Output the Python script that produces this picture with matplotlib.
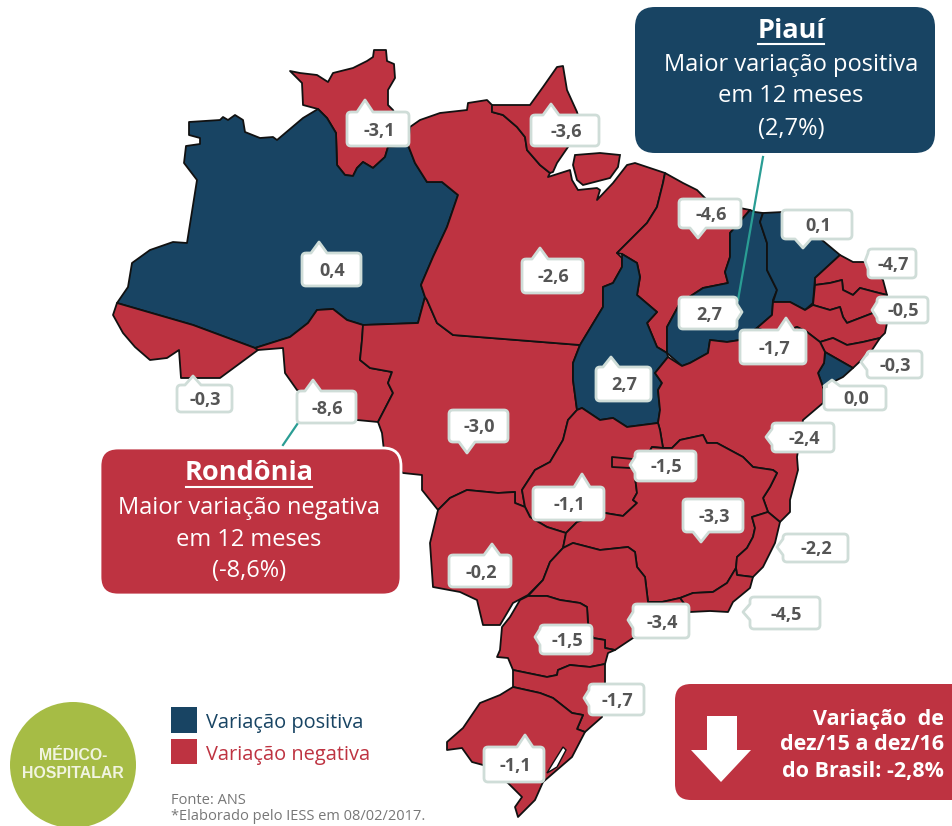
import matplotlib
matplotlib.use('Agg')
import matplotlib.pyplot as plt
from matplotlib.patches import Polygon, PathPatch, FancyBboxPatch, Circle
from matplotlib.path import Path

states = ['RR', 'AM', 'AC', 'RO', 'MT', 'PA', 'AP', 'MA', 'TO', 'PI', 'CE', 'RN', 'PB', 'PE',
          'AL', 'SE', 'BA', 'GO', 'DF', 'MS', 'MG', 'ES', 'RJ', 'SP', 'PR', 'SC', 'RS']
values = [-3.1, 0.4, -0.3, -8.6, -3.0, -2.6, -3.6, -4.6, 2.7, 2.7, 0.1, -4.7, -0.5, -1.7,
          -0.3, 0.0, -2.4, -1.1, -1.5, -0.2, -3.3, -2.2, -4.5, -3.4, -1.5, -1.7, -1.1]

# state outlines, pixel coordinates
outlines = {
    'RR': [(290, 71), (300, 73), (317, 75), (328, 82), (333, 73), (353, 68), (367, 61), (373, 57), (374, 50),
           (386, 50), (387, 61), (394, 64), (395, 78), (388, 90), (388, 105), (393, 110), (400, 127), (408, 145),
           (388, 147), (385, 157), (373, 168), (363, 162), (357, 168), (353, 176), (345, 175), (337, 165),
           (336, 133), (327, 118), (318, 109), (303, 105), (302, 83)],
    'AM': [(318, 109), (327, 118), (336, 133), (337, 165), (345, 175), (353, 176), (357, 168), (363, 162),
           (373, 168), (385, 157), (388, 147), (408, 145), (415, 163), (427, 182), (442, 182), (458, 195),
           (447, 227), (433, 257), (421, 285), (425, 297), (418, 323), (363, 325), (347, 320), (333, 309),
           (317, 310), (308, 323), (290, 337), (255, 348), (193, 325), (117, 303), (128, 287), (132, 263),
           (150, 250), (173, 242), (187, 243), (197, 180), (184, 163), (186, 146), (200, 144), (200, 138),
           (189, 135), (189, 122), (220, 120), (223, 117), (228, 120), (235, 115), (243, 120), (245, 132),
           (260, 138), (273, 137), (277, 140), (303, 118)],
    'AC': [(117, 303), (113, 315), (123, 333), (135, 347), (150, 360), (167, 358), (179, 350), (181, 378),
           (220, 378), (258, 350), (255, 348), (193, 325)],
    'RO': [(258, 350), (255, 348), (290, 337), (308, 323), (317, 310), (333, 309), (347, 320), (363, 325),
           (362, 340), (360, 360), (370, 368), (392, 372), (388, 383), (393, 393), (378, 422), (357, 420),
           (297, 390), (285, 373), (283, 348)],
    'MT': [(363, 325), (418, 323), (425, 297), (427, 300), (437, 323), (453, 335), (580, 345), (573, 363),
           (573, 380), (577, 410), (568, 420), (563, 440), (550, 462), (535, 470), (522, 490), (525, 507),
           (515, 503), (515, 492), (498, 493), (467, 490), (450, 498), (438, 510), (422, 490), (422, 475),
           (403, 473), (385, 460), (382, 433), (378, 422), (393, 393), (388, 383), (392, 372), (370, 368),
           (360, 360), (362, 340)],
    'PA': [(580, 345), (453, 335), (437, 323), (427, 300), (425, 297), (421, 285), (433, 257), (447, 227),
           (458, 195), (442, 182), (427, 182), (415, 163), (408, 145), (410, 127), (420, 120), (440, 113),
           (467, 110), (468, 103), (487, 100), (492, 105), (492, 112), (503, 115), (517, 127), (525, 137),
           (527, 150), (540, 165), (550, 173), (548, 177), (570, 170), (572, 180), (578, 190), (597, 188),
           (600, 190), (597, 200), (613, 183), (627, 165), (635, 163), (665, 173), (663, 183), (657, 207),
           (647, 223), (627, 243), (617, 253), (622, 258), (622, 267), (613, 283), (603, 287), (603, 307)],
    'AP': [(492, 105), (513, 105), (530, 105), (543, 87), (557, 67), (563, 66), (567, 90), (577, 112),
           (582, 130), (568, 147), (557, 163), (553, 172), (550, 173), (540, 165), (527, 150), (525, 137),
           (517, 127), (503, 115), (492, 112)],
    'MA': [(665, 173), (683, 183), (697, 190), (712, 205), (740, 208), (750, 210), (730, 233), (730, 257),
           (725, 272), (728, 283), (703, 288), (680, 303), (667, 327), (667, 353), (657, 347), (647, 323),
           (657, 312), (637, 295), (640, 277), (637, 263), (622, 254), (617, 253), (627, 243), (647, 223),
           (657, 207), (663, 183)],
    'TO': [(622, 254), (637, 263), (640, 277), (637, 295), (657, 312), (647, 323), (657, 347), (667, 353),
           (668, 357), (655, 373), (662, 383), (658, 390), (660, 410), (658, 423), (627, 427), (613, 418),
           (600, 420), (582, 408), (577, 410), (573, 380), (573, 363), (580, 345), (603, 307), (603, 287),
           (613, 283), (622, 267), (622, 258)],
    'PI': [(750, 210), (755, 212), (763, 213), (760, 222), (767, 243), (767, 270), (777, 290), (773, 300),
           (772, 315), (757, 328), (740, 340), (727, 342), (710, 340), (708, 353), (690, 363), (682, 366),
           (667, 353), (667, 327), (680, 303), (703, 288), (728, 283), (725, 272), (730, 257), (730, 233)],
    'CE': [(763, 213), (783, 212), (822, 240), (840, 255), (815, 278), (813, 303), (805, 310), (790, 302),
           (773, 302), (777, 290), (767, 270), (767, 243), (760, 222)],
    'RN': [(840, 255), (853, 262), (867, 262), (883, 280), (887, 295), (875, 292), (860, 288), (853, 295),
           (843, 290), (842, 280), (830, 283), (815, 285), (815, 278)],
    'PB': [(815, 285), (830, 283), (842, 280), (843, 290), (853, 295), (860, 288), (875, 292), (887, 295),
           (888, 318), (873, 313), (860, 318), (847, 323), (843, 317), (840, 307), (830, 310), (813, 305)],
    'PE': [(773, 302), (790, 302), (805, 310), (813, 305), (830, 310), (840, 307), (843, 317), (847, 323),
           (860, 318), (873, 313), (888, 318), (885, 333), (880, 338), (863, 342), (847, 345), (833, 338),
           (820, 342), (807, 332), (797, 327), (775, 335), (757, 328), (772, 315)],
    'AL': [(820, 342), (833, 338), (847, 345), (863, 342), (880, 338), (872, 350), (853, 368), (825, 352)],
    'SE': [(825, 352), (853, 368), (843, 377), (823, 387), (818, 373), (824, 363)],
    'BA': [(823, 387), (823, 403), (803, 420), (797, 457), (798, 470), (790, 500), (790, 512), (780, 522),
           (768, 512), (763, 498), (770, 487), (777, 473), (773, 470), (753, 467), (743, 457), (717, 443),
           (707, 443), (703, 435), (680, 440), (672, 448), (663, 448), (660, 430), (658, 423), (660, 410),
           (658, 390), (662, 383), (655, 373), (668, 357), (682, 366), (690, 363), (708, 353), (710, 340),
           (727, 342), (740, 340), (757, 328), (775, 335), (797, 327), (807, 332), (820, 342), (825, 352),
           (824, 363), (818, 373)],
    'GO': [(577, 410), (582, 408), (600, 420), (613, 418), (627, 427), (658, 423), (660, 430), (663, 448),
           (652, 447), (635, 477), (637, 493), (633, 500), (637, 503), (623, 516), (605, 513), (577, 522),
           (566, 533), (547, 527), (530, 517), (525, 507), (522, 490), (535, 470), (550, 462), (563, 440),
           (568, 420)],
    'DF': [(612, 457), (633, 459), (630, 468), (612, 467)],
    'MS': [(438, 510), (450, 498), (467, 490), (498, 493), (515, 492), (515, 503), (525, 507), (530, 517),
           (547, 527), (566, 533), (563, 548), (550, 562), (543, 580), (528, 595), (513, 603), (500, 625),
           (483, 625), (477, 600), (460, 592), (433, 587), (430, 543)],
    'MG': [(566, 533), (577, 522), (605, 513), (623, 516), (637, 503), (633, 500), (637, 493), (635, 477),
           (652, 447), (663, 448), (672, 448), (680, 440), (703, 435), (707, 443), (717, 443), (743, 457),
           (753, 467), (773, 470), (777, 473), (770, 487), (763, 498), (768, 512), (752, 517), (755, 528),
           (753, 537), (747, 548), (737, 557), (736, 568), (727, 583), (713, 592), (693, 593), (680, 598),
           (662, 602), (648, 602), (645, 577), (637, 567), (635, 552), (628, 547), (600, 550), (573, 543),
           (563, 548)],
    'ES': [(768, 512), (780, 522), (775, 543), (763, 567), (753, 577), (737, 575), (736, 568), (737, 557),
           (747, 548), (753, 537), (755, 528), (752, 517)],
    'RJ': [(680, 598), (693, 593), (713, 592), (727, 583), (736, 568), (737, 575), (753, 577), (750, 588),
           (733, 602), (728, 612), (710, 611), (690, 612)],
    'SP': [(563, 548), (573, 543), (600, 550), (628, 547), (635, 552), (637, 567), (645, 577), (648, 602),
           (662, 602), (680, 598), (690, 612), (668, 622), (633, 638), (615, 650), (605, 648), (605, 640),
           (593, 638), (588, 623), (587, 607), (580, 603), (560, 600), (547, 596), (528, 596), (543, 580),
           (550, 562)],
    'PR': [(528, 596), (520, 600), (510, 617), (502, 627), (500, 650), (497, 657), (508, 658), (513, 670),
           (547, 677), (557, 675), (558, 670), (570, 665), (590, 667), (605, 664), (608, 653), (615, 650),
           (605, 648), (605, 640), (593, 638), (588, 623), (587, 607), (580, 603), (560, 600), (547, 596)],
    'SC': [(513, 670), (547, 677), (557, 675), (558, 670), (570, 665), (590, 667), (605, 664), (605, 682),
           (602, 717), (585, 732), (577, 729), (583, 715), (572, 713), (553, 698), (540, 693), (513, 687)],
    'RS': [(513, 687), (540, 693), (553, 698), (572, 713), (583, 715), (577, 729), (585, 732), (572, 757),
           (543, 782), (535, 800), (518, 817), (515, 807), (522, 797), (508, 783), (483, 765), (472, 762),
           (462, 748), (447, 750), (447, 742), (463, 728), (480, 703), (500, 695)],
}
marajo = [(575, 155), (600, 153), (620, 155), (618, 167), (610, 178), (583, 185), (577, 180), (573, 165)]
lagoon = [(563, 747), (566, 750), (557, 767), (547, 773), (553, 763)]

# x0, y0, x1, y1 of each value box and the tip of its pointer
label_boxes = {
    'RR': (347, 112, 409, 146, 365, 100), 'AP': (531, 115, 599, 146, 551, 104), 'AM': (302, 253, 361, 286, 319, 242),
    'PA': (522, 259, 583, 293, 540, 248), 'MA': (679, 199, 741, 228, 698, 238), 'CE': (782, 210, 852, 239, 803, 248),
    'RN': (868, 249, 916, 278, 865, 261), 'PB': (877, 297, 928, 323, 872, 310), 'PI': (679, 297, 737, 329, 742, 312),
    'PE': (740, 330, 806, 364, 786, 318), 'AL': (867, 351, 922, 378, 861, 362), 'SE': (824, 386, 886, 410, 832, 380),
    'BA': (772, 423, 834, 452, 766, 437), 'DF': (635, 451, 696, 481, 630, 465), 'TO': (596, 367, 651, 401, 611, 357),
    'MT': (449, 410, 508, 442, 467, 453), 'GO': (533, 487, 604, 520, 582, 474), 'MG': (683, 499, 743, 532, 701, 542),
    'ES': (783, 534, 848, 562, 777, 547), 'RJ': (750, 597, 820, 629, 743, 612), 'MS': (449, 555, 511, 587, 492, 544),
    'SP': (633, 604, 689, 638, 628, 620), 'PR': (540, 625, 592, 654, 535, 637), 'SC': (589, 684, 644, 715, 584, 698),
    'RS': (484, 747, 544, 782, 525, 735), 'AC': (177, 385, 232, 412, 193, 376), 'RO': (297, 391, 356, 423, 313, 380),
}

RED = '#BE3341'
BLUE = '#184463'
plt.rcParams['font.family'] = ['Open Sans', 'DejaVu Sans']

fig = plt.figure(figsize=(9.53, 8.26), dpi=100)
ax = fig.add_axes([0, 0, 1, 1])
ax.set_xlim(0, 953)
ax.set_ylim(826, 0)
ax.axis('off')


def bubble(x0, y0, x1, y1, tx, ty, r=4, w=8):
    # rounded box with a pointer on whichever side the tip lies
    pts = [((x0 + r, y0), Path.MOVETO)]
    if ty < y0:
        pts += [((tx - w, y0), Path.LINETO), ((tx, ty), Path.LINETO), ((tx + w, y0), Path.LINETO)]
    pts += [((x1 - r, y0), Path.LINETO), ((x1, y0), Path.CURVE3), ((x1, y0 + r), Path.CURVE3)]
    if tx > x1:
        pts += [((x1, ty - w), Path.LINETO), ((tx, ty), Path.LINETO), ((x1, ty + w), Path.LINETO)]
    pts += [((x1, y1 - r), Path.LINETO), ((x1, y1), Path.CURVE3), ((x1 - r, y1), Path.CURVE3)]
    if ty > y1:
        pts += [((tx + w, y1), Path.LINETO), ((tx, ty), Path.LINETO), ((tx - w, y1), Path.LINETO)]
    pts += [((x0 + r, y1), Path.LINETO), ((x0, y1), Path.CURVE3), ((x0, y1 - r), Path.CURVE3)]
    if tx < x0:
        pts += [((x0, ty + w), Path.LINETO), ((tx, ty), Path.LINETO), ((x0, ty - w), Path.LINETO)]
    pts += [((x0, y0 + r), Path.LINETO), ((x0, y0), Path.CURVE3), ((x0 + r, y0), Path.CURVE3)]
    return Path([p[0] for p in pts], [p[1] for p in pts])


for state, value in zip(states, values):
    color = BLUE if value >= 0 else RED
    ax.add_patch(Polygon(outlines[state], closed=True, facecolor=color, edgecolor='#111111', lw=1.3,
                         joinstyle='round', zorder=2))
ax.add_patch(Polygon(marajo, closed=True, facecolor=RED, edgecolor='#111111', lw=1.3, zorder=2))
ax.add_patch(Polygon(lagoon, closed=True, facecolor='white', edgecolor='#111111', lw=1.0, zorder=3))

# leader lines
ax.plot([763, 738], [157, 300], color='#2A9D94', lw=1.6, zorder=3)
ax.plot([298, 283], [423, 445], color='#2A9D94', lw=1.6, zorder=3)

for state, value in zip(states, values):
    x0, y0, x1, y1, tx, ty = label_boxes[state]
    ax.add_patch(PathPatch(bubble(x0, y0, x1, y1, tx, ty), facecolor='white', edgecolor='#CFDDD8', lw=2,
                           joinstyle='round', zorder=4))
    ax.text((x0 + x1) / 2 + 1, (y0 + y1) / 2 + 1.5, f'{value:.1f}'.replace('.', ','), ha='center', va='center',
            fontsize=13, fontweight='bold', color='#555555', zorder=5)

# callouts
ax.add_patch(FancyBboxPatch((635, 7), 300, 146, boxstyle='round,pad=0,rounding_size=20', facecolor=BLUE,
                            edgecolor='none', zorder=6))
ax.text(791, 31, 'Piauí', ha='center', va='center', fontsize=19.5, fontweight='bold', color='white', zorder=7)
ax.plot([758, 824], [44, 44], color='white', lw=1.5, zorder=7)
for y, line in zip([65, 96, 129], ['Maior variação positiva', 'em 12 meses', '(2,7%)']):
    ax.text(791, y, line, ha='center', va='center', fontsize=17, color='white', zorder=7)

ax.add_patch(FancyBboxPatch((100, 448), 301, 147, boxstyle='round,pad=0,rounding_size=18', facecolor=RED,
                            edgecolor='white', lw=2, zorder=6))
ax.text(249, 473, 'Rondônia', ha='center', va='center', fontsize=19.5, fontweight='bold', color='white', zorder=7)
ax.plot([186, 312], [487, 487], color='white', lw=1.5, zorder=7)
for y, line in zip([508, 540, 571], ['Maior variação negativa', 'em 12 meses', '(-8,6%)']):
    ax.text(249, y, line, ha='center', va='center', fontsize=17, color='white', zorder=7)

# national box, runs off the right edge
ax.add_patch(FancyBboxPatch((675, 684), 300, 116, boxstyle='round,pad=0,rounding_size=16', facecolor=RED,
                            edgecolor='none', zorder=2))
ax.add_patch(Polygon([(707, 716), (737, 716), (737, 750), (751, 750), (721, 782), (691, 750), (707, 750)],
                     closed=True, facecolor='white', edgecolor='none', zorder=3))
for y, line in zip([719, 745, 772], ['Variação  de', 'dez/15 a dez/16', 'do Brasil: -2,8%']):
    ax.text(944, y, line, ha='right', va='center', fontsize=15.5, fontweight='bold', color='white', zorder=3)

# segment badge
ax.add_patch(Circle((73, 765), 63, facecolor='#A6BC45', edgecolor='none', zorder=2))
ax.text(73, 755, 'MÉDICO-', ha='center', va='center', fontsize=11.4, fontweight='bold', color='#F1F4E0',
        family='Liberation Sans', zorder=3)
ax.text(73, 773, 'HOSPITALAR', ha='center', va='center', fontsize=11.4, fontweight='bold', color='#F1F4E0',
        family='Liberation Sans', zorder=3)

# legend
ax.add_patch(Polygon([(171, 707), (197, 707), (197, 733), (171, 733)], closed=True, facecolor=BLUE, edgecolor='none'))
ax.add_patch(Polygon([(171, 739), (197, 739), (197, 764), (171, 764)], closed=True, facecolor=RED, edgecolor='none'))
ax.text(206, 723, 'Variação positiva', ha='left', va='center', fontsize=14.4, fontweight='medium', color=BLUE)
ax.text(206, 755, 'Variação negativa', ha='left', va='center', fontsize=14.4, fontweight='medium', color=RED)
ax.text(171, 800, 'Fonte: ANS', ha='left', va='center', fontsize=10.5, color='#777777')
ax.text(171, 817, '*Elaborado pelo IESS em 08/02/2017.', ha='left', va='center', fontsize=10.5, color='#777777')

fig.savefig('out.png', dpi=100)
